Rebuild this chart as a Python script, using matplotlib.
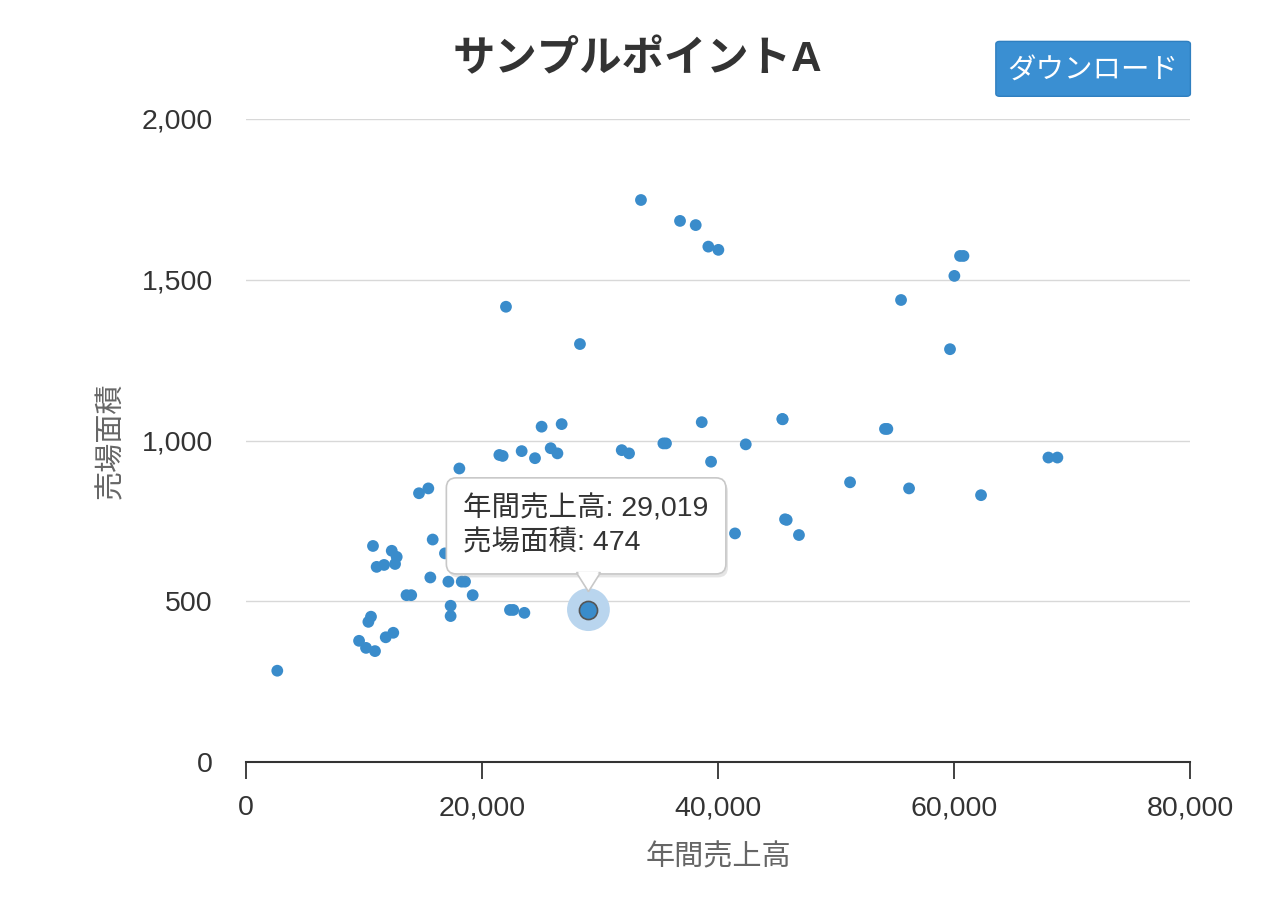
import matplotlib.pyplot as plt
from matplotlib.patches import FancyBboxPatch, Polygon
from matplotlib.ticker import FuncFormatter
import matplotlib.patheffects as pe

plt.rcParams['font.family'] = ['Liberation Sans', 'Noto Sans CJK JP', 'DejaVu Sans']

# データ (年間売上高, 売場面積)
sales = [2650, 9580, 10170, 10930, 10370, 10590, 11840, 12480, 13600, 14000,
         10760, 11070, 11700, 12350, 12770, 12630, 14660, 15450, 15820, 15620,
         17150, 18280, 18560, 19210, 17340, 17340, 18080, 21470, 16860,
         25050, 26750, 21750, 23360, 24490, 25820, 26390, 31840, 32460,
         35370, 35590, 38620, 42350, 39410, 45480, 22370, 22650, 23590,
         45680, 41440, 33470, 36780, 38110, 39180, 40030, 60510, 60800,
         60030, 55510, 59660, 45450, 54350, 54150, 68000, 68760, 51190,
         56190, 62290, 45820, 46860, 22030, 28300]
area = [284, 377, 355, 345, 436, 452, 388, 402, 519, 519,
        672, 607, 613, 657, 638, 616, 836, 851, 692, 574,
        561, 561, 561, 519, 486, 454, 913, 955, 649,
        1043, 1051, 952, 967, 945, 976, 960, 970, 960,
        991, 991, 1057, 988, 934, 1066, 473, 473, 464,
        755, 711, 1748, 1683, 1670, 1603, 1593, 1574, 1574,
        1512, 1437, 1284, 1067, 1036, 1036, 947, 947, 870,
        851, 830, 753, 706, 1416, 1300]

hl_sales = 29019
hl_area = 474

title = 'サンプルポイントA'
xlabel = '年間売上高'
ylabel = '売場面積'
xticks = [0, 20000, 40000, 60000, 80000]
yticks = [0, 500, 1000, 1500, 2000]

blue = '#3a8ccb'

fig = plt.figure(figsize=(12.8, 9), dpi=100)
ax = fig.add_axes([0.1922, 0.1533, 0.7375, 0.7145])

ax.scatter(sales, area, s=72, color=blue, edgecolors='none', zorder=3)

# ハイライトされた点
ax.scatter([hl_sales], [hl_area], s=950, color='#b9d5ee', edgecolors='none', zorder=4)
ax.scatter([hl_sales], [hl_area], s=170, color=blue, edgecolors='#555555', linewidths=1.2, zorder=5)

ax.set_xlim(0, 80000)
ax.set_ylim(0, 2000)
ax.set_xticks(xticks)
ax.set_yticks(yticks)
fmt = FuncFormatter(lambda v, p: f'{int(v):,}')
ax.xaxis.set_major_formatter(fmt)
ax.yaxis.set_major_formatter(fmt)

for s in ['top', 'right', 'left']:
    ax.spines[s].set_visible(False)
ax.spines['bottom'].set_color('#333333')
ax.spines['bottom'].set_linewidth(1.5)
ax.tick_params(axis='x', length=12, width=1.3, color='#333333', labelsize=20.5,
               labelcolor='#333333', pad=12)
ax.tick_params(axis='y', length=0, labelsize=20.5, labelcolor='#333333', pad=24)
ax.grid(axis='y', color='#d8d8d8', linewidth=1)
ax.set_axisbelow(True)
for gl in ax.get_ygridlines()[:1]:
    gl.set_visible(False)

ax.set_xlabel(xlabel, fontsize=21, color='#666666', labelpad=16)
ax.set_ylabel(ylabel, fontsize=21, color='#666666', labelpad=12)

fig.text(0.498, 0.933, title, ha='center', va='center', fontsize=30.5,
         fontweight='bold', color='#333333')

# ダウンロードボタン
btn = FancyBboxPatch((0.778, 0.893), 0.152, 0.061, transform=fig.transFigure,
                     boxstyle='round,pad=0,rounding_size=0.003',
                     fc='#3a8fd2', ec='#2f7fc0', lw=1)
fig.patches.append(btn)
fig.text(0.854, 0.92, 'ダウンロード', ha='center', va='center', fontsize=20.5,
         color='white')

# ツールチップ
tip = f'{xlabel}: {hl_sales:,}\n{ylabel}: {hl_area:,}'
ann = ax.annotate(tip, xy=(hl_sales, hl_area), xytext=(-90, 38),
                  textcoords='offset points', ha='left', va='bottom',
                  fontsize=20.5, color='#333333', linespacing=1.4, zorder=10,
                  bbox=dict(boxstyle='round,pad=0.6,rounding_size=0.35',
                            fc='white', ec='#c8c8c8', lw=1.2))
ann.get_bbox_patch().set_path_effects([
    pe.SimplePatchShadow(offset=(1.5, -2.5), shadow_rgbFace='#999999', alpha=0.25),
    pe.Normal()])

# 吹き出しの三角形
base = ax.transData.transform((hl_sales, hl_area))
verts = [(base[0] - 12, base[1] + 37), (base[0] + 12, base[1] + 37), (base[0], base[1] + 18)]
tri = Polygon(verts, closed=True, fc='white', ec='#c8c8c8', lw=1.2,
              transform=None, zorder=11)
fig.patches.append(tri)
cover = Polygon([(verts[0][0] + 1.5, verts[0][1] + 1), (verts[1][0] - 1.5, verts[1][1] + 1),
                 (verts[2][0], verts[2][1] + 2.5)], closed=True, fc='white', ec='none',
                transform=None, zorder=12)
fig.patches.append(cover)

fig.savefig('out.png', dpi=100)
